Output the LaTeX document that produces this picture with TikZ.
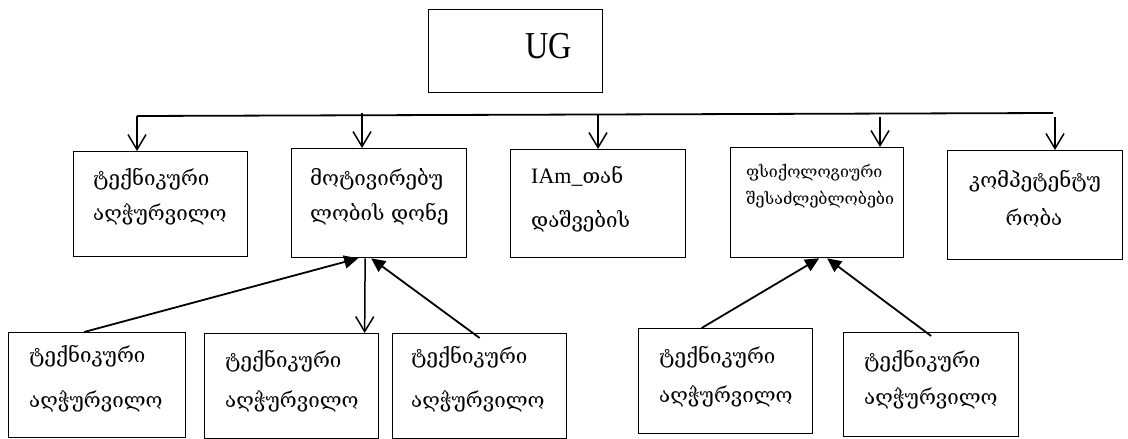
\documentclass[tikz,border=0pt]{standalone}
\usepackage{fontspec}
\setmainfont{Liberation Serif}
\newfontfamily\geo{DejaVu Serif}
\usetikzlibrary{arrows.meta}
\begin{document}
\begin{tikzpicture}[x=1pt,y=-1pt,
  box/.style={draw,line width=1.3pt,inner sep=0pt,anchor=north west},
  gtext/.style={anchor=base west,inner sep=0pt,font=\geo\fontsize{20.5}{20}\selectfont},
  stext/.style={anchor=base west,inner sep=0pt,font=\geo\fontsize{16}{16}\selectfont},
  open/.style={line width=1.5pt,-{Straight Barb[length=15pt,width=18pt,line width=1.5pt]}},
  filled/.style={line width=1.8pt,-{Triangle[length=14pt,width=13pt]}}]
\useasboundingbox (0,0) rectangle (1128,439);
\fill[white] (0,0) rectangle (1128,439);
% top box
\node[box,minimum width=174pt,minimum height=83pt] (ug) at (428,9) {};
\node[anchor=base,inner sep=0pt,font=\fontsize{34}{34}\selectfont] (ugt) at (549,58) {\scalebox{0.95}[1.12]{UG}};
% upper row boxes
\node[box,minimum width=174pt,minimum height=105pt] (t1) at (73,151) {};
\node[box,minimum width=175pt,minimum height=109pt] (t2) at (291,148) {};
\node[box,minimum width=175pt,minimum height=108pt] (t3) at (510,149) {};
\node[box,minimum width=173pt,minimum height=110pt] (t4) at (730,147) {};
\node[box,minimum width=175pt,minimum height=109pt] (t5) at (947,150) {};
% lower row boxes
\node[box,minimum width=177pt,minimum height=105pt] (b1) at (8,332) {};
\node[box,minimum width=174pt,minimum height=105pt] (b2) at (204,333) {};
\node[box,minimum width=174pt,minimum height=105pt] (b3) at (392,333) {};
\node[box,minimum width=174pt,minimum height=105pt] (b4) at (638,328) {};
\node[box,minimum width=175pt,minimum height=104pt] (b5) at (843,332) {};
% texts
\node[gtext] (t1a) at (93,185) {ტექნიკური};
\node[gtext] (t1b) at (93,220) {აღჭურვილო};
\node[gtext] (t2a) at (310,185) {მოტივირებუ};
\node[gtext] (t2b) at (310,220) {ლობის დონე};
\node[gtext] (t3a) at (531,183) {\fontspec{Liberation Serif}\fontsize{22}{22}\selectfont IAm\_\geo\fontsize{20.5}{20}\selectfont თან};
\node[gtext] (t3b) at (531,227) {დაშვების};
\node[stext] (t4a) at (746,177) {ფსიქოლოგიური};
\node[stext] (t4b) at (746,204) {შესაძლებლობები};
\node[gtext,anchor=base] (t5a) at (1035,187) {კომპეტენტუ};
\node[gtext,anchor=base] (t5b) at (1034,225) {რობა};
\node[gtext] (b1a) at (29,362) {ტექნიკური};
\node[gtext] (b1b) at (29,407) {აღჭურვილო};
\node[gtext] (b2a) at (225,367) {ტექნიკური};
\node[gtext] (b2b) at (225,407) {აღჭურვილო};
\node[gtext] (b3a) at (411,363) {ტექნიკური};
\node[gtext] (b3b) at (411,407) {აღჭურვილო};
\node[gtext] (b4a) at (659,363) {ტექნიკური};
\node[gtext] (b4b) at (659,402) {აღჭურვილო};
\node[gtext] (b5a) at (864,367) {ტექნიკური};
\node[gtext] (b5b) at (864,404) {აღჭურვილო};
% distribution bar
\coordinate (barl) at (137,116);
\coordinate (barr) at (1053,113);
\draw[line width=1.8pt] (barl) -- (barr);
\coordinate (d1) at (137,116);
\coordinate (d2) at (362,113);
\coordinate (d3) at (598,115);
\coordinate (d4) at (880,117);
\coordinate (d5) at (1055,117);
\draw[open] (d1) -- (d1 |- t1.north);
\draw[open] (d2) -- (d2 |- t2.north);
\draw[open] (d3) -- (d3 |- t3.north);
\draw[open] (d4) -- (d4 |- t4.north);
\draw[open] (d5) -- (d5 |- t5.north);
% lower arrows
\draw[filled] ([xshift=-13pt]b1.north) -- ([xshift=-21pt]t2.south);
\draw[open] ([xshift=-14pt]t2.south) -- ([xshift=73pt]b2.north);
\draw[filled] ([yshift=-5pt]b3.north) -- ([xshift=-8pt]t2.south);
\draw[filled] ([xshift=-24pt]b4.north) -- ([xshift=2pt]t4.south);
\draw[filled] ([yshift=-4pt]b5.north) -- ([xshift=10pt]t4.south);
\end{tikzpicture}
\end{document}
